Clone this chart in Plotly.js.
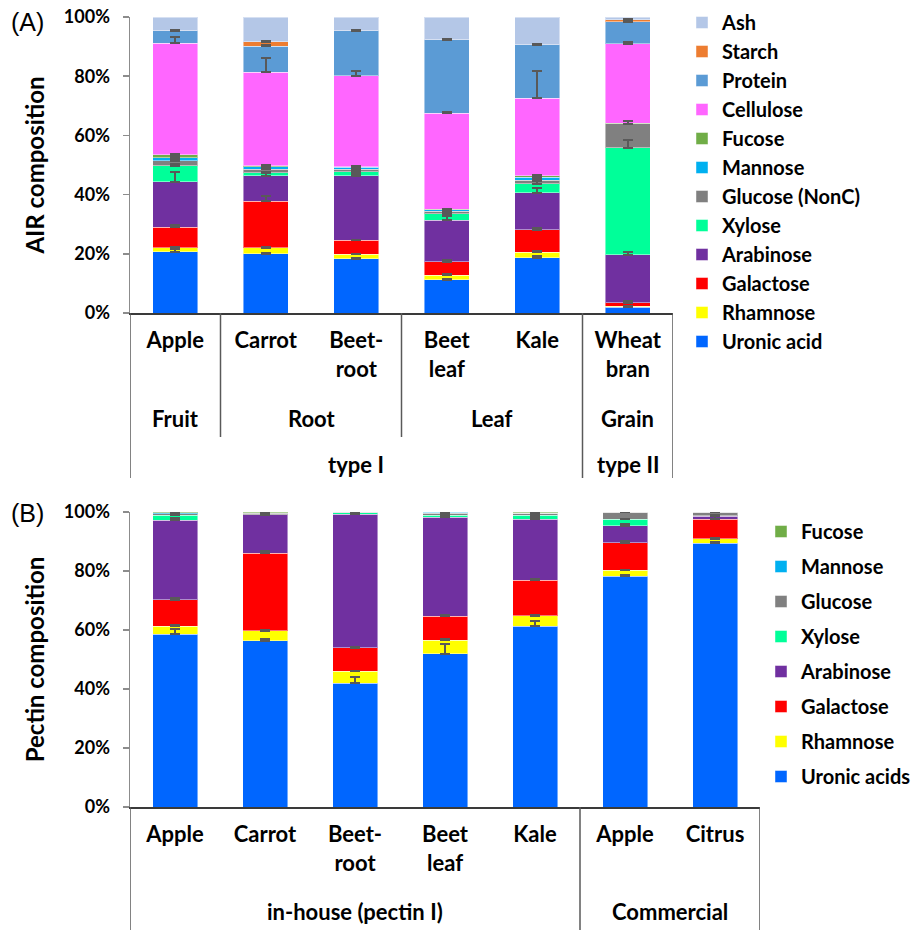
<!DOCTYPE html>
<html>
<head>
<meta charset="utf-8">
<script src="https://cdn.plot.ly/plotly-3.0.1.min.js"></script>
<style>
  html, body { margin: 0; padding: 0; background: #ffffff; }
  #chart { width: 921px; height: 930px; }
</style>
</head>
<body>
<div id="chart"></div>
<script>
// ---------- (A) AIR composition, % of dry AIR ----------
const samplesA = ['Apple', 'Carrot', 'Beetroot', 'Beet leaf', 'Kale', 'Wheat bran'];
const tickTextA = ['Apple', 'Carrot', 'Beet-<br>root', 'Beet<br>leaf', 'Kale', 'Wheat<br>bran'];

const uronicA    = [20.7, 20.1, 18.3, 11.2, 18.7, 2.0];
const rhamnoseA  = [1.3, 1.9, 1.6, 1.5, 1.8, 0.2];
const galactoseA = [6.9, 15.8, 4.7, 4.6, 7.7, 1.2];
const arabinoseA = [15.5, 8.6, 21.8, 14.1, 12.4, 16.2];
const xyloseA    = [5.4, 0.9, 1.3, 2.1, 3.1, 36.3];
const glucoseA   = [1.6, 1.3, 0.9, 0.8, 1.2, 8.0];
const mannoseA   = [1.1, 0.8, 0.6, 0.5, 0.9, 0.1];
const fucoseA    = [0.9, 0.3, 0.2, 0.2, 0.6, 0.1];
const celluloseA = [37.7, 31.6, 30.7, 32.5, 26.1, 26.8];
const proteinA   = [4.3, 8.8, 15.3, 24.8, 18.1, 7.5];
const starchA    = [0, 1.5, 0, 0, 0, 0.7];
const ashA       = [4.6, 8.4, 4.6, 7.7, 9.4, 0.9];

// standard deviations (upper side only); null = no bar drawn
const uronicErrA    = [0.8, 0.3, 0.3, 0.3, 0.5, 0.4];
const rhamnoseErrA  = [0.4, 0.4, 0.2, 0.4, 0.5, 0.3];
const galactoseErrA = [0.9, 1.6, 0.2, 0.5, 0.5, 0.5];
const arabinoseErrA = [3.4, 0.8, 0.4, 1.5, 1.6, 0.9];
const xyloseErrA    = [0.7, 0.5, 0.5, 0.5, 0.8, 2.6];
const glucoseErrA   = [0.3, 0.5, 0.5, 0.5, 0.3, 1.1];
const mannoseErrA   = [0.3, 0.3, 0.3, 0.3, 0.3, null];
const fucoseErrA    = [0.3, 0.3, 0.3, 0.3, 0.3, null];
const celluloseErrA = [2.0, 4.8, 1.8, 0.3, 9.1, 0.8];
const proteinErrA   = [0.2, 0.3, 0.1, 0.2, 0.2, 0.5];
const starchErrA    = [null, 0.3, null, null, null, 0.3];
const ashErrA       = [null, null, null, null, null, null];

// ---------- (B) pectin monosaccharide composition ----------
const samplesB = ['Apple', 'Carrot', 'Beetroot', 'Beet leaf', 'Kale', 'Apple (commercial)', 'Citrus'];
const tickTextB = ['Apple', 'Carrot', 'Beet-<br>root', 'Beet<br>leaf', 'Kale', 'Apple', 'Citrus'];

const uronicB    = [58.5, 56.3, 42.0, 51.9, 61.2, 78.2, 89.4];
const rhamnoseB  = [2.8, 3.5, 4.0, 4.7, 3.7, 2.0, 1.6];
const galactoseB = [9.0, 26.3, 8.0, 8.1, 11.9, 9.4, 6.5];
const arabinoseB = [26.9, 12.9, 45.3, 33.5, 20.8, 5.8, 1.1];
const xyloseB    = [1.7, 0.1, 0.5, 0.7, 1.3, 2.1, 0.2];
const glucoseB   = [0.5, 0.5, 0.1, 0.7, 0.6, 2.4, 1.2];
const mannoseB   = [0.3, 0.1, 0.05, 0.3, 0.1, 0.05, 0];
const fucoseB    = [0.3, 0.3, 0.05, 0.1, 0.4, 0.05, 0];

const uronicErrB    = [2.0, 0.7, 2.0, 3.3, 2.0, 0.3, 0.4];
const rhamnoseErrB  = [0.3, 0.1, 0.2, 0.3, 0.2, 0.3, 0.2];
const galactoseErrB = [0.5, 0.8, 0.3, 0.3, 0.4, 0.5, 1.0];
const arabinoseErrB = [0.6, 0.3, 0.3, 0.3, 0.7, 0.5, 0.3];
const xyloseErrB    = [0.5, 0.3, 0.3, 0.3, 0.3, 0.2, 0.3];
const glucoseErrB   = [0.5, 0.3, 0.3, 0.3, 0.3, 0.8, 0.5];
const mannoseErrB   = [0.3, 0.3, 0.3, 0.3, 0.3, 0.3, null];
const fucoseErrB    = [0.3, 0.3, 0.3, 0.3, 0.3, 0.3, null];

// ---------- styling ----------
const COLORS = {
  uronic: '#0066FF', rhamnose: '#FFFF00', galactose: '#FF0000', arabinose: '#7030A0',
  xylose: '#00FF99', glucose: '#808080', mannose: '#00B0F0', fucose: '#70AD47',
  cellulose: '#FF66FF', protein: '#5B9BD5', starch: '#ED7D31', ash: '#B4C7E7'
};
const FONT = 'Lato, "Open Sans", sans-serif';
const ERR_COLOR = '#595959';

// [name, values, errors, colour] from the bottom of each stack upwards
const seriesA = [
  ['Uronic acid', uronicA, uronicErrA, COLORS.uronic],
  ['Rhamnose', rhamnoseA, rhamnoseErrA, COLORS.rhamnose],
  ['Galactose', galactoseA, galactoseErrA, COLORS.galactose],
  ['Arabinose', arabinoseA, arabinoseErrA, COLORS.arabinose],
  ['Xylose', xyloseA, xyloseErrA, COLORS.xylose],
  ['Glucose (NonC)', glucoseA, glucoseErrA, COLORS.glucose],
  ['Mannose', mannoseA, mannoseErrA, COLORS.mannose],
  ['Fucose', fucoseA, fucoseErrA, COLORS.fucose],
  ['Cellulose', celluloseA, celluloseErrA, COLORS.cellulose],
  ['Protein', proteinA, proteinErrA, COLORS.protein],
  ['Starch', starchA, starchErrA, COLORS.starch],
  ['Ash', ashA, ashErrA, COLORS.ash]
];
const seriesB = [
  ['Uronic acids', uronicB, uronicErrB, COLORS.uronic],
  ['Rhamnose', rhamnoseB, rhamnoseErrB, COLORS.rhamnose],
  ['Galactose', galactoseB, galactoseErrB, COLORS.galactose],
  ['Arabinose', arabinoseB, arabinoseErrB, COLORS.arabinose],
  ['Xylose', xyloseB, xyloseErrB, COLORS.xylose],
  ['Glucose', glucoseB, glucoseErrB, COLORS.glucose],
  ['Mannose', mannoseB, mannoseErrB, COLORS.mannose],
  ['Fucose', fucoseB, fucoseErrB, COLORS.fucose]
];

// coloured stacked segments
function segmentTraces(series, x, xa, ya, legend) {
  return series.map(([name, y, , color], i) => ({
    type: 'bar', name: name, x: x, y: y, xaxis: xa, yaxis: ya,
    legend: legend, legendgroup: legend + name, legendrank: 100 - i,
    marker: { color: color, line: { color: 'rgba(255,255,255,0.45)', width: 1 } },
    cliponaxis: false, hoverinfo: 'name+y'
  }));
}

// the same stacks again on an overlaid axis, transparent, carrying the
// error bars so they sit on top of every segment
function errorTraces(series, x, xa, ya) {
  return series.map(([name, y, err]) => ({
    type: 'bar', name: name, x: x, y: y, xaxis: xa, yaxis: ya,
    showlegend: false, hoverinfo: 'skip', cliponaxis: false,
    marker: { color: 'rgba(0,0,0,0)', line: { width: 0 } },
    error_y: {
      type: 'data', symmetric: false,
      array: err.map(v => (v === null ? NaN : v)),
      color: ERR_COLOR, thickness: 2, width: 5
    }
  }));
}

const traces = [].concat(
  segmentTraces(seriesA, samplesA, 'x', 'y', 'legend'),
  segmentTraces(seriesB, samplesB, 'x2', 'y2', 'legend2'),
  errorTraces(seriesA, samplesA, 'x', 'y3'),
  errorTraces(seriesB, samplesB, 'x2', 'y4')
);

const W = 921, H = 930;
const px = v => v / W;          // horizontal pixel -> paper
const py = v => 1 - v / H;      // vertical pixel -> paper

const tickFont = { family: FONT, size: 18, color: '#000', weight: 'bold' };
const catFont = { family: FONT, size: 22, color: '#000', weight: 'bold' };
const titleFont = { family: FONT, size: 24, color: '#000', weight: 'bold' };

function yAxis(domain, title) {
  return {
    domain: domain, range: [0, 100], dtick: 20, ticksuffix: '%',
    showgrid: false, zeroline: false,
    showline: true, linecolor: '#8c8c8c', linewidth: 1.5,
    ticks: 'outside', ticklen: 6, tickcolor: '#8c8c8c', tickwidth: 1.5,
    tickfont: tickFont, ticklabelstandoff: 9,
    title: { text: title, font: titleFont, standoff: 12 }
  };
}

function overlayAxis(over, anchor) {
  return { overlaying: over, anchor: anchor, range: [0, 100], visible: false, fixedrange: true };
}

function xAxis(domain, anchor, cats, texts) {
  return {
    domain: domain, anchor: anchor, type: 'category',
    categoryorder: 'array', categoryarray: cats,
    tickvals: cats, ticktext: texts,
    range: [-0.5, cats.length - 0.5],
    showline: true, linecolor: '#3a3a3a', linewidth: 2,
    ticks: '', tickfont: catFont, ticklabelstandoff: 7,
    showgrid: false, zeroline: false
  };
}

// divider lines of the grouped category axes
function vline(xref, x, yTop, yBottom) {
  return {
    type: 'line', xref: xref, yref: 'paper',
    x0: x, x1: x, y0: py(yTop), y1: py(yBottom),
    line: { color: '#595959', width: 1.5 }, layer: 'above'
  };
}

function groupLabel(xref, x, yPix, text) {
  return {
    xref: xref, yref: 'paper', x: x, y: py(yPix),
    xanchor: 'center', yanchor: 'middle', showarrow: false,
    text: text, font: catFont
  };
}

const legendFont = { family: FONT, size: 20, color: '#000', weight: 'bold' };

const layout = {
  width: W, height: H,
  margin: { l: 0, r: 0, t: 0, b: 0 },
  paper_bgcolor: '#ffffff', plot_bgcolor: '#ffffff',
  barmode: 'stack', bargap: 0.5,
  font: { family: FONT, color: '#000' },
  showlegend: true,
  xaxis: xAxis([px(130), px(673)], 'y', samplesA, tickTextA),
  yaxis: yAxis([py(313), py(17)], 'AIR composition'),
  yaxis3: overlayAxis('y', 'x'),
  xaxis2: xAxis([px(130), px(760)], 'y2', samplesB, tickTextB),
  yaxis2: yAxis([py(807), py(512)], 'Pectin composition'),
  yaxis4: overlayAxis('y2', 'x2'),
  legend: {
    x: px(682), y: py(3), xanchor: 'left', yanchor: 'top',
    traceorder: 'grouped', tracegroupgap: 0,
    font: legendFont, bgcolor: 'rgba(0,0,0,0)', borderwidth: 0
  },
  legend2: {
    x: px(761), y: py(512), xanchor: 'left', yanchor: 'top',
    traceorder: 'grouped', tracegroupgap: 6,
    font: legendFont, bgcolor: 'rgba(0,0,0,0)', borderwidth: 0
  },
  shapes: [
    vline('x', -0.5, 313, 478), vline('x', 0.5, 313, 437), vline('x', 2.5, 313, 437),
    vline('x', 4.5, 313, 478), vline('x', 5.5, 313, 478),
    vline('x2', -0.5, 807, 930), vline('x2', 4.5, 807, 930), vline('x2', 6.5, 807, 930)
  ],
  annotations: [
    groupLabel('x', 0, 418, 'Fruit'),
    groupLabel('x', 1.5, 418, 'Root'),
    groupLabel('x', 3.5, 418, 'Leaf'),
    groupLabel('x', 5, 418, 'Grain'),
    groupLabel('x', 2, 464, 'type I'),
    groupLabel('x', 5, 464, 'type II'),
    groupLabel('x2', 2, 911, 'in-house (pectin I)'),
    groupLabel('x2', 5.5, 911, 'Commercial'),
    { xref: 'paper', yref: 'paper', x: px(9), y: py(22), xanchor: 'left', yanchor: 'middle',
      showarrow: false, text: '(A)',
      font: { family: '"Liberation Sans", Arial, sans-serif', size: 25, color: '#000' } },
    { xref: 'paper', yref: 'paper', x: px(9), y: py(513), xanchor: 'left', yanchor: 'middle',
      showarrow: false, text: '(B)',
      font: { family: '"Liberation Sans", Arial, sans-serif', size: 25, color: '#000' } }
  ]
};

Plotly.newPlot('chart', traces, layout, { displayModeBar: false, staticPlot: true });
</script>
</body>
</html>
